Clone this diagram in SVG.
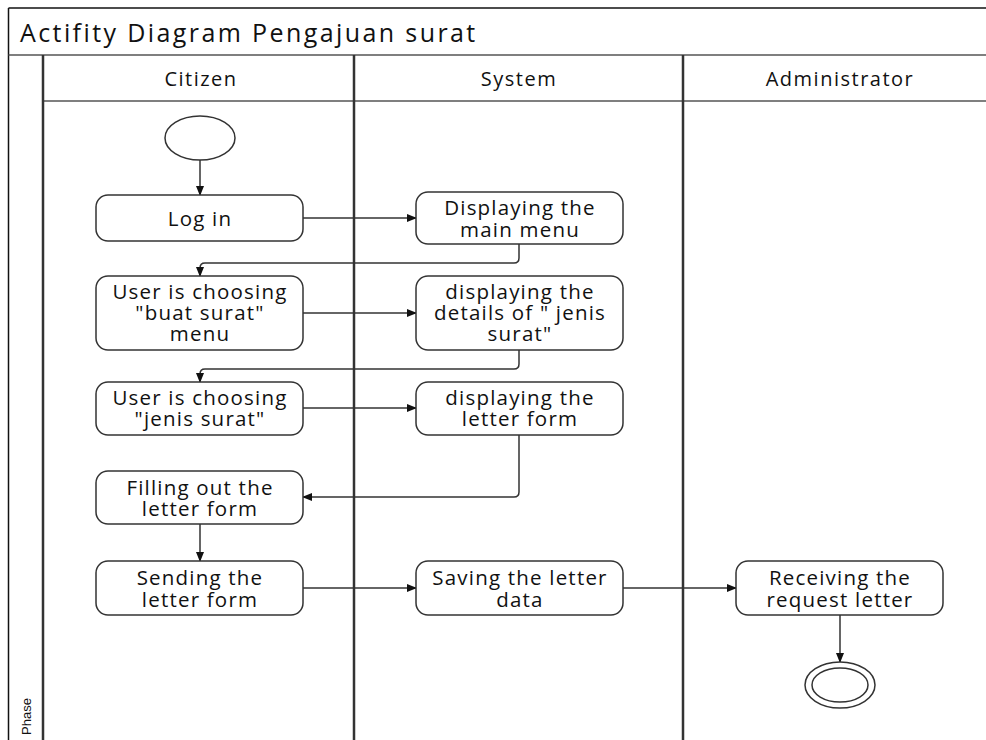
<svg xmlns="http://www.w3.org/2000/svg" width="986" height="740" viewBox="0 0 986 740">
<defs>
<marker id="ah" markerWidth="10" markerHeight="8" refX="9" refY="4" orient="auto" markerUnits="userSpaceOnUse">
<path d="M0,0 L10,4 L0,8 Z" fill="#111"/>
</marker>
<style>
.frame{fill:none;stroke:#111;stroke-width:1.5}
.lane{fill:none;stroke:#333;stroke-width:2.5}
.hl{fill:none;stroke:#555;stroke-width:1.5}
.box{fill:#fff;stroke:#333;stroke-width:1.5}
.t{font-family:"Open Sans","Liberation Sans",sans-serif;font-size:20.5px;letter-spacing:1.2px;fill:#111;text-anchor:middle;dominant-baseline:central}
.h{font-family:"Open Sans","Liberation Sans",sans-serif;font-size:20px;letter-spacing:1.5px;fill:#111;text-anchor:middle;dominant-baseline:central}
.c{fill:none;stroke:#333;stroke-width:1.5;marker-end:url(#ah)}
</style>
</defs>
<rect width="986" height="740" fill="#fff"/>
<g id="frame">
<line class="frame" x1="8.5" y1="8" x2="986" y2="8"/>
<line class="frame" x1="8.5" y1="8" x2="8.5" y2="740"/>
<line class="hl" x1="8.5" y1="55" x2="986" y2="55"/>
<line class="hl" x1="43" y1="101" x2="986" y2="101"/>
<line class="lane" x1="43" y1="55" x2="43" y2="740"/>
<line class="lane" x1="354" y1="55" x2="354" y2="740"/>
<line class="lane" x1="683" y1="55" x2="683" y2="740"/>
<text x="20" y="32" font-family="'Open Sans','Liberation Sans',sans-serif" font-size="25px" letter-spacing="2.4px" fill="#111" dominant-baseline="central">Actifity Diagram Pengajuan surat</text>
<text class="h" x="201" y="78">Citizen</text>
<text class="h" x="519" y="78">System</text>
<text class="h" x="840" y="78">Administrator</text>
<text transform="translate(31,735) rotate(-90)" font-family="'Liberation Sans',sans-serif" font-size="13px" fill="#111">Phase</text>
</g>
<g id="connectors">
<line class="c" x1="200" y1="160" x2="200" y2="195"/>
<line class="c" x1="303" y1="218" x2="416" y2="218"/>
<path class="c" d="M519,244 V258 Q519,263 514,263 H205 Q200,263 200,268 V276"/>
<line class="c" x1="303" y1="313" x2="416" y2="313"/>
<path class="c" d="M519,350 V364 Q519,369 514,369 H205 Q200,369 200,374 V382"/>
<line class="c" x1="303" y1="408" x2="416" y2="408"/>
<path class="c" d="M519,435 V492 Q519,497 514,497 H303"/>
<line class="c" x1="200" y1="524" x2="200" y2="561"/>
<line class="c" x1="303" y1="588" x2="416" y2="588"/>
<line class="c" x1="623" y1="588" x2="736" y2="588"/>
<line class="c" x1="840" y1="615" x2="840" y2="662"/>
</g>
<g id="start">
<ellipse cx="200" cy="138" rx="35" ry="22" fill="#fff" stroke="#333" stroke-width="1.5"/>
</g>
<g id="login">
<rect class="box" x="96" y="195" width="207" height="46" rx="12"/>
<text class="t" x="200" y="218">Log in</text>
</g>
<g id="mainmenu">
<rect class="box" x="416" y="192" width="207" height="52" rx="12"/>
<text class="t" x="520" y="207">Displaying the</text>
<text class="t" x="520" y="229">main menu</text>
</g>
<g id="buatsurat">
<rect class="box" x="96" y="276" width="207" height="74" rx="12"/>
<text class="t" x="200" y="291">User is choosing</text>
<text class="t" x="200" y="312">"buat surat"</text>
<text class="t" x="200" y="333">menu</text>
</g>
<g id="details">
<rect class="box" x="416" y="276" width="207" height="74" rx="12"/>
<text class="t" x="520" y="291">displaying the</text>
<text class="t" x="520" y="312">details of " jenis</text>
<text class="t" x="520" y="333">surat"</text>
</g>
<g id="jenissurat">
<rect class="box" x="96" y="382" width="207" height="53" rx="12"/>
<text class="t" x="200" y="397">User is choosing</text>
<text class="t" x="200" y="418">"jenis surat"</text>
</g>
<g id="letterform">
<rect class="box" x="416" y="382" width="207" height="53" rx="12"/>
<text class="t" x="520" y="397">displaying the</text>
<text class="t" x="520" y="418">letter form</text>
</g>
<g id="filling">
<rect class="box" x="96" y="471" width="207" height="53" rx="12"/>
<text class="t" x="200" y="487">Filling out the</text>
<text class="t" x="200" y="508">letter form</text>
</g>
<g id="sending">
<rect class="box" x="96" y="561" width="207" height="54" rx="12"/>
<text class="t" x="200" y="577">Sending the</text>
<text class="t" x="200" y="599">letter form</text>
</g>
<g id="saving">
<rect class="box" x="416" y="561" width="207" height="54" rx="12"/>
<text class="t" x="520" y="577">Saving the letter</text>
<text class="t" x="520" y="599">data</text>
</g>
<g id="receiving">
<rect class="box" x="736" y="561" width="207" height="54" rx="12"/>
<text class="t" x="840" y="577">Receiving the</text>
<text class="t" x="840" y="599">request letter</text>
</g>
<g id="final">
<ellipse cx="840" cy="685" rx="35" ry="23" fill="#fff" stroke="#333" stroke-width="1.5"/>
<ellipse cx="840" cy="685" rx="28" ry="17" fill="none" stroke="#333" stroke-width="1.5"/>
</g>
</svg>
